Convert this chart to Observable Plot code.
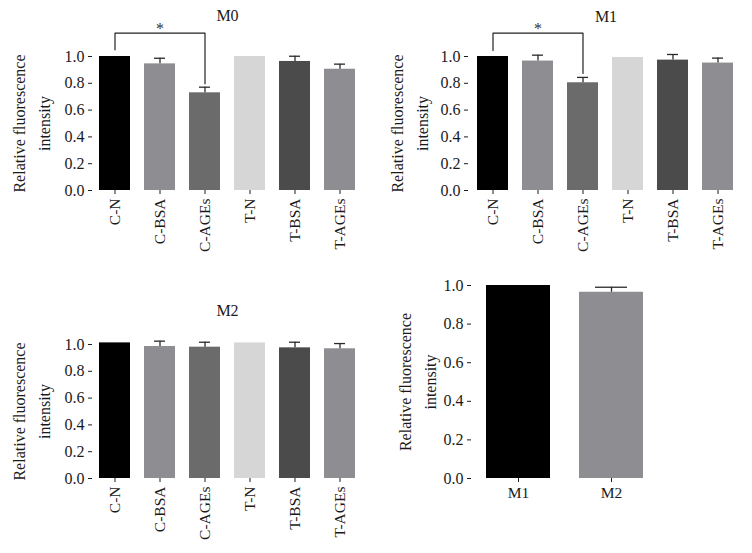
<!DOCTYPE html>
<html>
<head>
<meta charset="utf-8">
<script src="https://cdn.jsdelivr.net/npm/d3@7"></script>
<script src="https://cdn.jsdelivr.net/npm/@observablehq/plot@0.6"></script>
<style>
  html, body { margin: 0; padding: 0; background: #fff; }
  #chart { position: relative; width: 752px; height: 553px; background: #fff; overflow: hidden; }
  #chart > div { position: absolute; }
  #chart svg, #chart svg text { font-family: "Liberation Serif", "Times New Roman", serif !important; }
  #chart svg [aria-label="y-axis tick label"] text { font-size: 16px !important; fill: #1a1a1a !important; }
  #chart svg [aria-label="x-axis tick label"] text { font-size: 15.5px !important; fill: #1a1a1a !important; }
</style>
</head>
<body>
<div id="chart"></div>
<script>
// ---- data ----
const groups = ["C-N", "C-BSA", "C-AGEs", "T-N", "T-BSA", "T-AGEs"];
const m0Values = [1.0, 0.945, 0.729, 1.0, 0.963, 0.905];
const m0Errors = [0, 0.042, 0.042, 0, 0.039, 0.038];
const m1Values = [1.0, 0.966, 0.804, 0.993, 0.973, 0.951];
const m1Errors = [0, 0.044, 0.040, 0, 0.042, 0.037];
const m2Values = [1.012, 0.985, 0.980, 1.012, 0.975, 0.968];
const m2Errors = [0, 0.040, 0.037, 0, 0.042, 0.039];
const compareGroups = ["M1", "M2"];
const compareValues = [1.0, 0.965];
const compareErrors = [0, 0.026];
const yTicks = [0, 0.2, 0.4, 0.6, 0.8, 1.0];
const yLabel = "Relative fluorescence\nintensity";
// significance brackets: [from, to, leftEnd, top, rightEnd]
const m0Bracket = ["C-N", "C-AGEs", 1.05, 1.174, 0.796];
const m1Bracket = ["C-N", "C-AGEs", 1.045, 1.174, 0.873];
const starLevel = 1.205;

const groupColors = ["#000000", "#8e8e92", "#6b6b6b", "#d6d6d6", "#4b4b4b", "#8e8e92"];
const compareColors = ["#000000", "#8e8e92"];

function panel({cats, values, errors, colors, title, titleDy, bracket, left, top, width, height,
                mt, mb, ml, mr, padIn, padOut, capInset, labelDx}) {
  const rows = cats.map((c, i) => ({cat: c, v: values[i], e: values[i] + errors[i], hasErr: errors[i] > 0}));
  const marks = [
    Plot.barY(rows, {x: "cat", y: "v", fill: "cat"}),
    Plot.ruleX(rows.filter(d => d.hasErr), {x: "cat", y1: "v", y2: "e", stroke: "#2a2a2a", strokeWidth: 1.3}),
    Plot.tickY(rows.filter(d => d.hasErr), {x: "cat", y: "e", stroke: "#2a2a2a", strokeWidth: 1.3,
      insetLeft: capInset, insetRight: capInset}),
    Plot.axisY({ticks: yTicks, tickFormat: d3.format(".1f"), tickSize: 4, tickPadding: 4, label: null, fontSize: 16}),
    Plot.axisX({tickSize: 4, tickPadding: 4, tickRotate: cats.length > 2 ? -90 : 0, label: null, fontSize: 15.5}),
    Plot.text([yLabel], {frameAnchor: "left", textAnchor: "middle", lineAnchor: "middle", rotate: -90,
      dx: labelDx, fontSize: 16, lineHeight: 1.55, fill: "#1a1a1a"})
  ];
  if (title) {
    marks.push(Plot.text([title], {frameAnchor: "top", textAnchor: "middle", lineAnchor: "middle",
      dy: titleDy, fontSize: 16, fill: "#1a1a1a"}));
  }
  if (bracket) {
    const [a, b, y0, yt, y1] = bracket;
    marks.push(Plot.line([{x: a, y: y0}, {x: a, y: yt}, {x: b, y: yt}, {x: b, y: y1}],
      {x: "x", y: "y", stroke: "#222", strokeWidth: 1.2}));
    marks.push(Plot.text([{x: cats[(cats.indexOf(a) + cats.indexOf(b)) / 2], y: starLevel}],
      {x: "x", y: "y", text: () => "*", fontSize: 16, fill: "#333"}));
  }
  const svg = Plot.plot({
    width, height,
    marginTop: mt, marginBottom: mb, marginLeft: ml, marginRight: mr,
    style: "font-size: 16px; color: #1a1a1a; background: transparent; overflow: visible;",
    x: {domain: cats, paddingInner: padIn, paddingOuter: padOut, line: true, axis: null},
    y: {domain: [0, 1], line: true, axis: null},
    color: {domain: cats, range: colors},
    marks
  });
  const wrap = document.createElement("div");
  wrap.style.left = left + "px";
  wrap.style.top = top + "px";
  wrap.appendChild(svg);
  document.getElementById("chart").appendChild(wrap);
}

panel({cats: groups, values: m0Values, errors: m0Errors, colors: groupColors, title: "M0", titleDy: -41,
  bracket: m0Bracket, left: 0, top: 0, width: 370, height: 270, mt: 56, mb: 80, ml: 92, mr: 8,
  padIn: 0.31, padOut: 0.145, capInset: 10, labelDx: -63});
panel({cats: groups, values: m1Values, errors: m1Errors, colors: groupColors, title: "M1", titleDy: -40,
  bracket: m1Bracket, left: 370, top: 0, width: 382, height: 270, mt: 56, mb: 80, ml: 98, mr: 9,
  padIn: 0.31, padOut: 0.145, capInset: 10, labelDx: -61});
panel({cats: groups, values: m2Values, errors: m2Errors, colors: groupColors, title: "M2", titleDy: -34,
  bracket: null, left: 0, top: 276, width: 370, height: 277, mt: 68, mb: 75, ml: 92, mr: 8,
  padIn: 0.31, padOut: 0.145, capInset: 10, labelDx: -63});
panel({cats: compareGroups, values: compareValues, errors: compareErrors, colors: compareColors, title: null,
  bracket: null, left: 370, top: 270, width: 382, height: 283, mt: 15, mb: 75, ml: 101, mr: 93,
  padIn: 0.31, padOut: 0.16, capInset: 16, labelDx: -56});
</script>
</body>
</html>
